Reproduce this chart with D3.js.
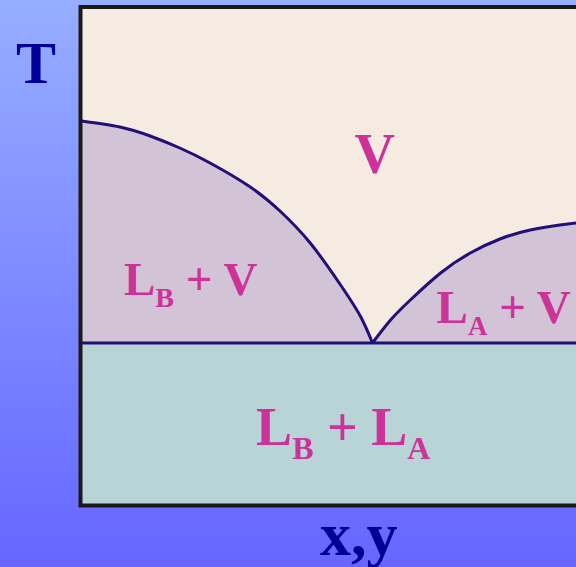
<!DOCTYPE html>
<html>
<head>
<meta charset="utf-8">
<script src="https://cdn.jsdelivr.net/npm/d3@7"></script>
<style>
  html, body { margin: 0; padding: 0; overflow: hidden; }
  svg { display: block; }
</style>
</head>
<body>
<div id="chart"></div>
<script>
// composition (x) and temperature (T)
const vaporLeftX = [0.0, 0.066, 0.118, 0.169, 0.221, 0.290, 0.341, 0.393, 0.444, 0.479, 0.5];
const vaporLeftT = [77.2, 76.0, 74.2, 71.8, 68.8, 64.0, 59.2, 52.8, 44.6, 38.2, 32.8];
const vaporRightX = [0.5, 0.531, 0.565, 0.617, 0.668, 0.719, 0.771, 0.822, 0.850];
const vaporRightT = [32.8, 37.4, 41.4, 46.8, 50.8, 53.6, 55.4, 56.4, 56.8];
const threePhaseT = 32.8;

const labels = [
  { main: "V", x: 0.469, T: 66.8, size: 56 },
  { main: "L", sub: "B", rest: " + V", x: 0.073, T: 42.4, size: 47, subSize: 28 },
  { main: "L", sub: "A", rest: " + V", x: 0.610, T: 36.8, size: 47, subSize: 27 },
  { main: "L", sub: "B", rest: " + L", sub2: "A", x: 0.300, T: 12.4, size: 54, subSize: 32 }
];

const W = 576, H = 567;
const plotLeft = 80.5, plotTop = 7, plotBottom = 505.5;

const svg = d3.select("#chart").append("svg")
    .attr("width", W)
    .attr("height", H);

const defs = svg.append("defs");
const grad = defs.append("linearGradient")
    .attr("id", "bg")
    .attr("x1", 0).attr("y1", 0).attr("x2", 0).attr("y2", 1);
grad.append("stop").attr("offset", "0%").attr("stop-color", "#96aeff");
grad.append("stop").attr("offset", "100%").attr("stop-color", "#6666ff");

svg.append("rect")
    .attr("width", W).attr("height", H)
    .attr("fill", "url(#bg)");

const x = d3.scaleLinear().domain([0, 1]).range([plotLeft + 1, plotLeft + 583]);
const y = d3.scaleLinear().domain([0, 100]).range([507, 7]);

const clip = defs.append("clipPath").attr("id", "plotclip");
clip.append("rect")
    .attr("x", plotLeft).attr("y", plotTop)
    .attr("width", W).attr("height", plotBottom - plotTop);

const g = svg.append("g").attr("clip-path", "url(#plotclip)");

// vapour region
g.append("rect")
    .attr("x", plotLeft).attr("y", plotTop)
    .attr("width", W).attr("height", y(threePhaseT) - plotTop)
    .attr("fill", "#f5ebe0");

// two-liquid region
g.append("rect")
    .attr("x", plotLeft).attr("y", y(threePhaseT))
    .attr("width", W).attr("height", plotBottom - y(threePhaseT))
    .attr("fill", "#b9d4d6");

const leftPts = vaporLeftX.map((v, i) => [v, vaporLeftT[i]]);
const rightPts = vaporRightX.map((v, i) => [v, vaporRightT[i]]);

const area = d3.area()
    .x(d => x(d[0]))
    .y0(y(threePhaseT))
    .y1(d => y(d[1]))
    .curve(d3.curveNatural);

const line = d3.line()
    .x(d => x(d[0]))
    .y(d => y(d[1]))
    .curve(d3.curveNatural);

[leftPts, rightPts].forEach(pts => {
    g.append("path").datum(pts)
        .attr("d", area)
        .attr("fill", "#d2c4d6");
});

g.append("line")
    .attr("x1", plotLeft).attr("x2", W)
    .attr("y1", y(threePhaseT)).attr("y2", y(threePhaseT))
    .attr("stroke", "#230f78")
    .attr("stroke-width", 3);

[leftPts, rightPts].forEach(pts => {
    g.append("path").datum(pts)
        .attr("d", line)
        .attr("fill", "none")
        .attr("stroke", "#230f78")
        .attr("stroke-width", 3);
});

// labels
const font = "'Liberation Serif', 'Times New Roman', serif";
labels.forEach(l => {
    const t = g.append("text")
        .attr("x", x(l.x))
        .attr("y", y(l.T))
        .attr("font-family", font)
        .attr("font-weight", "bold")
        .attr("font-size", l.size)
        .attr("fill", "#cc3399")
        .attr("xml:space", "preserve");
    t.append("tspan").text(l.main);
    if (l.sub) {
        t.append("tspan").attr("dy", l.size * 0.25).attr("font-size", l.subSize).text(l.sub);
        t.append("tspan").attr("dy", -l.size * 0.25).text(l.rest);
    }
    if (l.sub2) {
        t.append("tspan").attr("dy", l.size * 0.25).attr("font-size", l.subSize).text(l.sub2);
    }
});

// frame
svg.append("path")
    .attr("d", `M${W + 10},${plotTop}H${plotLeft}V${plotBottom}H${W + 10}`)
    .attr("fill", "none")
    .attr("stroke", "#1c1919")
    .attr("stroke-width", 4);

// axis titles
svg.append("text")
    .attr("x", 36).attr("y", 83)
    .attr("text-anchor", "middle")
    .attr("font-family", font)
    .attr("font-weight", "bold")
    .attr("font-size", 60)
    .attr("fill", "#000099")
    .text("T");

svg.append("text")
    .attr("x", 320).attr("y", 555)
    .attr("font-family", font)
    .attr("font-weight", "bold")
    .attr("font-size", 62)
    .attr("fill", "#000099")
    .text("x,y");
</script>
</body>
</html>
